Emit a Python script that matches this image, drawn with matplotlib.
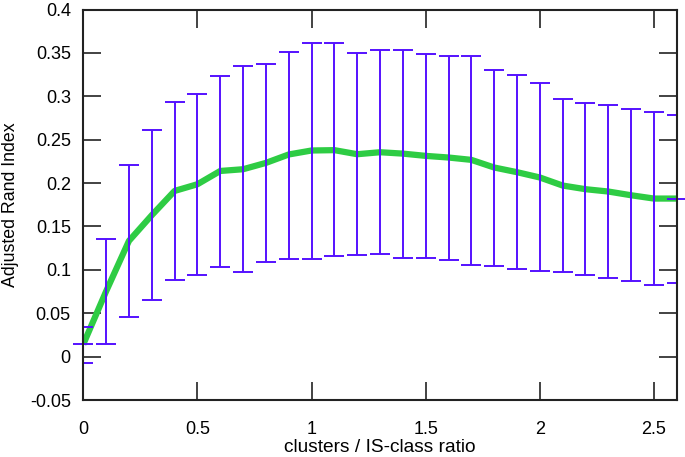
import matplotlib
matplotlib.use("Agg")
import matplotlib.pyplot as plt
import numpy as np

x = [0.0, 0.1, 0.2, 0.3, 0.4, 0.5, 0.6, 0.7, 0.8, 0.9, 1.0, 1.1, 1.2, 1.3,
     1.4, 1.5, 1.6, 1.7, 1.8, 1.9, 2.0, 2.1, 2.2, 2.3, 2.4, 2.5, 2.6]
ari_mean = [0.0142, 0.0753, 0.1334, 0.163, 0.191, 0.1987, 0.214, 0.216, 0.2233,
            0.233, 0.2376, 0.238, 0.2333, 0.2356, 0.234, 0.2314, 0.2295, 0.2268,
            0.218, 0.2126, 0.2065, 0.1972, 0.193, 0.1903, 0.186, 0.1822, 0.1822]
ari_upper = [0.034, 0.1356, 0.221, 0.261, 0.2937, 0.303, 0.324, 0.3345, 0.3375,
             0.351, 0.362, 0.361, 0.3495, 0.3533, 0.354, 0.3483, 0.3467, 0.346,
             0.33, 0.3245, 0.3156, 0.2964, 0.2918, 0.290, 0.2856, 0.2818, 0.279]
ari_lower = [-0.0069, 0.015, 0.0457, 0.0653, 0.0888, 0.0938, 0.1034, 0.0972, 0.1088,
             0.113, 0.113, 0.1157, 0.1168, 0.118, 0.114, 0.1137, 0.111, 0.106,
             0.1045, 0.101, 0.0984, 0.0972, 0.0938, 0.0903, 0.0868, 0.0822, 0.0849]

xticks = [0, 0.5, 1, 1.5, 2, 2.5]
xticklabels = ["0", "0.5", "1", "1.5", "2", "2.5"]
yticks = [-0.05, 0, 0.05, 0.1, 0.15, 0.2, 0.25, 0.3, 0.35, 0.4]
yticklabels = ["-0.05", "0", "0.05", "0.1", "0.15", "0.2", "0.25", "0.3", "0.35", "0.4"]

plt.rcParams['font.family'] = ['Liberation Sans', 'DejaVu Sans']

GREEN = '#2ecc44'
BLUE = '#5511ff'

fig = plt.figure(figsize=(6.85, 4.57), dpi=100)
ax = fig.add_axes([0.1216, 0.1247, 0.988 - 0.1216, 0.979 - 0.1247])

xa = np.array(x)
m = np.array(ari_mean)
up = np.array(ari_upper)
lo = np.array(ari_lower)

ax.plot(xa, m, color=GREEN, lw=4.5, solid_capstyle='butt', zorder=2)
cont = ax.errorbar(xa, m, yerr=[m - lo, up - m], fmt='none', ecolor=BLUE,
                   elinewidth=1.4, capsize=7, capthick=1.4, zorder=2.2)
for cl in cont[1]:
    cl.set_clip_on(True)
    cl.set_clip_path(ax.patch)
for bc in cont[2]:
    bc.set_clip_path(ax.patch)
# mean markers visible at the ends
for xi, mi in ((xa[0], m[0]), (xa[-1], m[-1])):
    ax.plot([xi], [mi], marker='_', ms=14, mew=1.4, color=BLUE,
            clip_on=False, zorder=2.2)

ax.set_xlim(0, 2.6)
ax.set_ylim(-0.05, 0.4)
ax.set_xticks(xticks)
ax.set_xticklabels(xticklabels)
ax.set_yticks(yticks)
ax.set_yticklabels(yticklabels)
ax.tick_params(direction='in', length=13, width=1.2, top=True, right=True,
               labelsize=13, color='#222222')
ax.tick_params(axis='x', pad=15)
ax.tick_params(axis='y', pad=9)
for s in ax.spines.values():
    s.set_linewidth(1.5)
    s.set_color('#222222')
    s.set_zorder(2.5)

ax.set_xlabel("clusters / IS-class ratio", fontsize=13.8, labelpad=1)
ax.set_ylabel("Adjusted Rand Index", fontsize=12.8, labelpad=8)

fig.savefig("out.png", dpi=100)
